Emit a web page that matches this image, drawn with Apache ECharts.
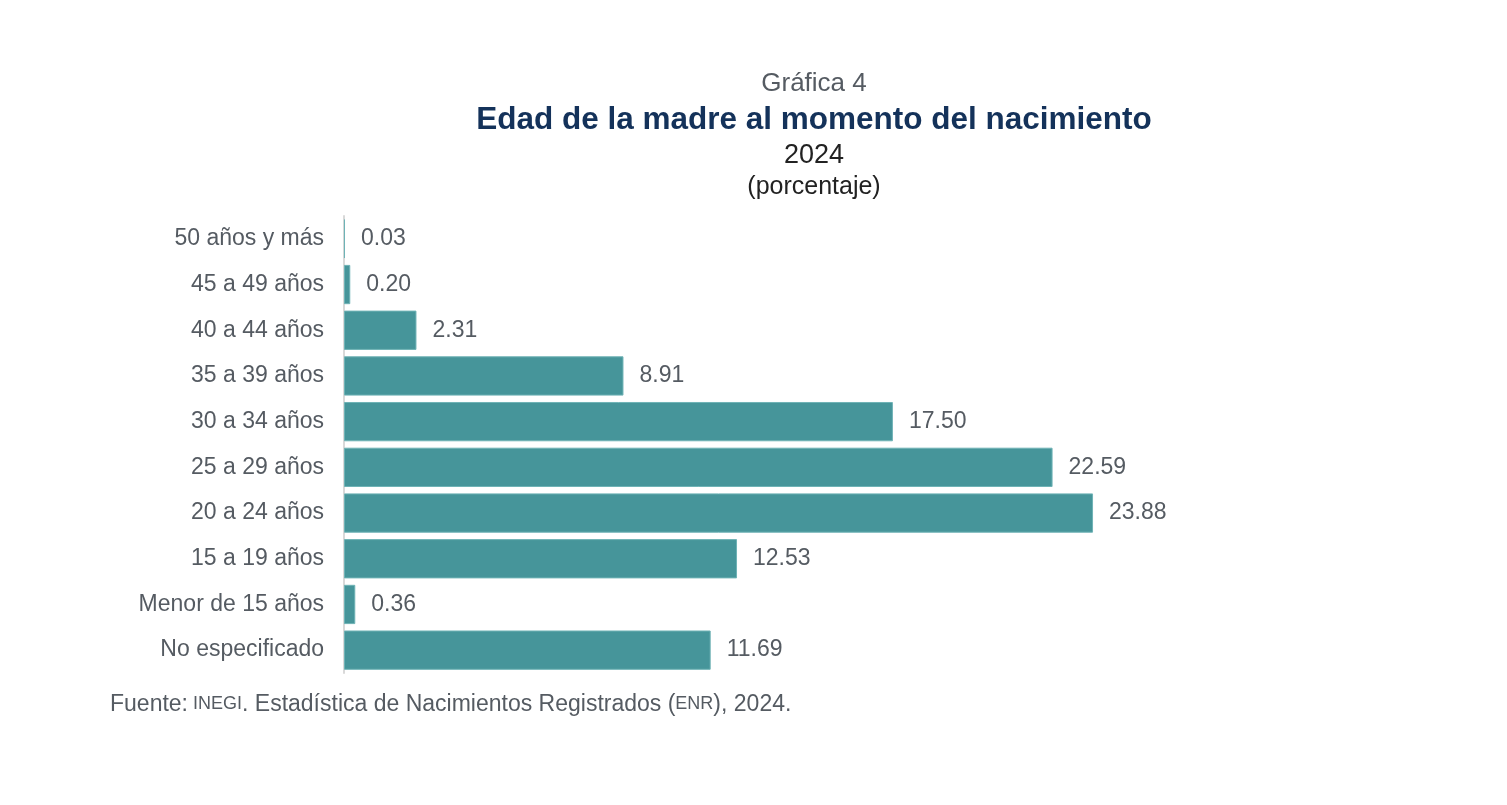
<!DOCTYPE html>
<html><head><meta charset="utf-8">
<script src="https://cdn.jsdelivr.net/npm/echarts@6/dist/echarts.min.js"></script>
<style>html,body{margin:0;padding:0;background:#fff}#c{width:1507px;height:805px}</style>
</head><body><div id="c"></div>
<script>
const categories = ["No especificado","Menor de 15 años","15 a 19 años","20 a 24 años","25 a 29 años","30 a 34 años","35 a 39 años","40 a 44 años","45 a 49 años","50 años y más"];
const values = [11.69,0.36,12.53,23.88,22.59,17.50,8.91,2.31,0.20,0.03];
const F = "'Liberation Sans', Arial, sans-serif";
const chart = echarts.init(document.getElementById('c'));
chart.setOption({
  animation:false,
  textStyle:{fontFamily:F},
  title:[
    {text:"Gráfica 4",left:809,top:66,textAlign:'center',textStyle:{fontFamily:F,fontSize:26,fontWeight:'normal',color:'#555b62'}},
    {text:"Edad de la madre al momento del nacimiento",left:809,top:99,textAlign:'center',textStyle:{fontFamily:F,fontSize:31.5,fontWeight:'bold',color:'#14325a'}},
    {text:"2024",left:809,top:137,textAlign:'center',textStyle:{fontFamily:F,fontSize:27,fontWeight:'normal',color:'#222'}},
    {text:"(porcentaje)",left:809,top:170,textAlign:'center',textStyle:{fontFamily:F,fontSize:25,fontWeight:'normal',color:'#222'}},
    {text:"{a|Fuente:} {b|INEGI}{a|. Estadística de Nacimientos Registrados (}{b|ENR}{a|), 2024.}",left:105,top:688,
     textStyle:{fontWeight:'normal',rich:{a:{fontFamily:F,fontSize:23,fontWeight:'normal',color:'#555b62'},b:{fontFamily:F,fontSize:18,fontWeight:'normal',color:'#555b62'}}}}
  ],
  grid:{left:344,top:216,width:941,height:457,containLabel:false},
  xAxis:{type:'value',min:0,max:30,show:false},
  yAxis:{type:'category',data:categories,
    axisLine:{show:true,lineStyle:{color:'#d9d9d9',width:2}},
    axisTick:{show:false},
    axisLabel:{fontFamily:F,fontSize:23,color:'#555b62',margin:20}},
  series:[{type:'bar',data:values,barCategoryGap:'14%',
    itemStyle:{color:'#46959a',borderColor:'#6fb3b6',borderWidth:1},
    label:{show:true,position:'right',distance:16,fontFamily:F,fontSize:23,color:'#555b62',
      formatter:p=>p.value.toFixed(2)}}]
});
</script></body></html>
